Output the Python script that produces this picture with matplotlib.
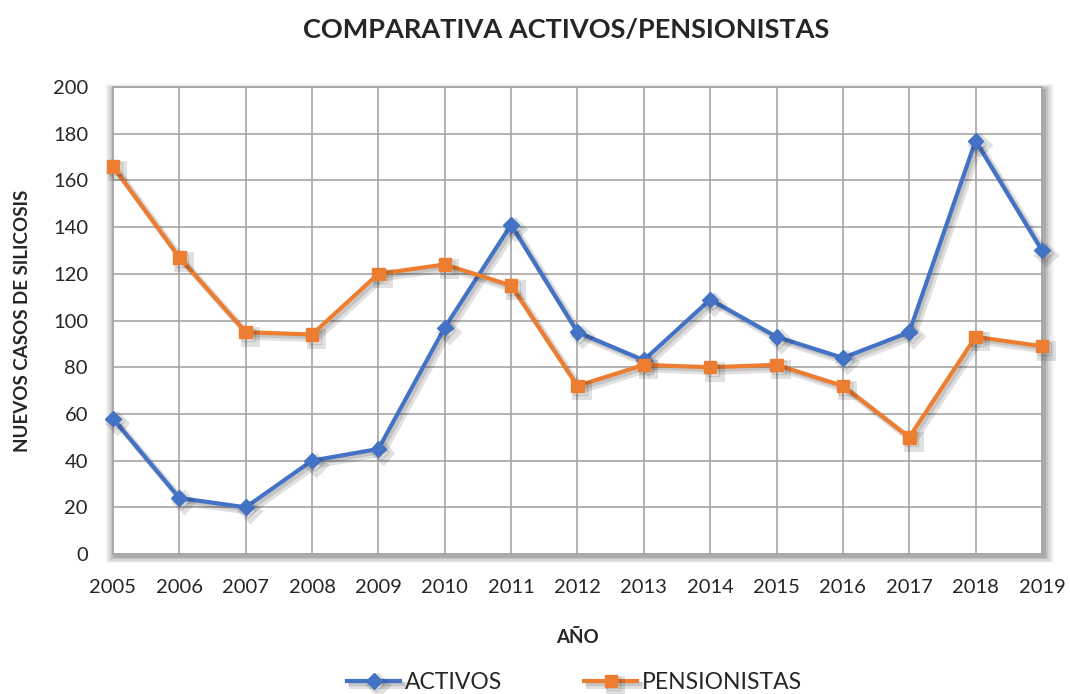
import matplotlib
matplotlib.use('Agg')
import matplotlib.pyplot as plt
import matplotlib.patheffects as pe
from matplotlib.patches import Rectangle
from matplotlib import rcParams

rcParams['font.family'] = ['Lato', 'DejaVu Sans']

years = [2005, 2006, 2007, 2008, 2009, 2010, 2011, 2012,
         2013, 2014, 2015, 2016, 2017, 2018, 2019]
activos = [58, 24, 20, 40, 45, 97, 141, 95, 83, 109, 93, 84, 95, 177, 130]
pensionistas = [166, 127, 95, 94, 120, 124, 115, 72, 81, 80, 81, 72, 50, 93, 89]

blue = '#4472C4'
orange = '#ED7D31'

fig = plt.figure(figsize=(10.7, 6.94), dpi=100)
ax = fig.add_axes([0.1056, 0.2017, 0.8682, 0.6729])

# soft shadow behind plot area
pos = ax.get_position()
for i, a in enumerate([0.04, 0.05, 0.07, 0.09, 0.12]):
    off = (5 - i) * 0.0018
    fig.patches.append(Rectangle((pos.x0 - off + 0.002, pos.y0 - off - 0.004),
                                 pos.width + 2 * off, pos.height + 2 * off,
                                 transform=fig.transFigure, color='black',
                                 alpha=a, lw=0, zorder=-5))

shadow = [pe.SimpleLineShadow(offset=(3, -3), shadow_color='black', alpha=0.12, linewidth=5),
          pe.SimpleLineShadow(offset=(2, -2), shadow_color='black', alpha=0.12),
          pe.Normal()]

ax.plot(years, activos, color=blue, lw=3, marker='D', ms=8, label='ACTIVOS',
        path_effects=shadow, zorder=3, clip_on=False)
ax.plot(years, pensionistas, color=orange, lw=3, marker='s', ms=9, label='PENSIONISTAS',
        path_effects=shadow, zorder=3, clip_on=False)

ax.set_xlim(2005, 2019)
ax.set_ylim(0, 200)
ax.set_xticks(years)
ax.set_yticks(range(0, 201, 20))
ax.grid(True, color='#a6a6a6', lw=1.2)
ax.set_axisbelow(True)
ax.set_facecolor('white')
for s in ax.spines.values():
    s.set_color('#a6a6a6')
    s.set_linewidth(1.2)
ax.tick_params(length=0, labelsize=14.5, colors='#262626')
ax.tick_params(axis='x', pad=18)
ax.tick_params(axis='y', pad=18)

fig.text(0.529, 0.957, 'COMPARATIVA ACTIVOS/PENSIONISTAS', fontsize=19.5,
         fontweight='bold', color='#262626', ha='center', va='center')
ax.set_xlabel('AÑO', fontsize=13.5, fontweight='bold', color='#262626', labelpad=24)
ax.set_ylabel('NUEVOS CASOS DE SILICOSIS', fontsize=13.5, fontweight='bold',
              color='#262626', labelpad=16)

fig.legend(loc='lower center', bbox_to_anchor=(0.537, -0.028), ncol=2, frameon=False,
           fontsize=16.5, handlelength=2.3, columnspacing=3.6, handletextpad=0.2,
           labelcolor='#262626')

fig.savefig('out.png', dpi=100)
